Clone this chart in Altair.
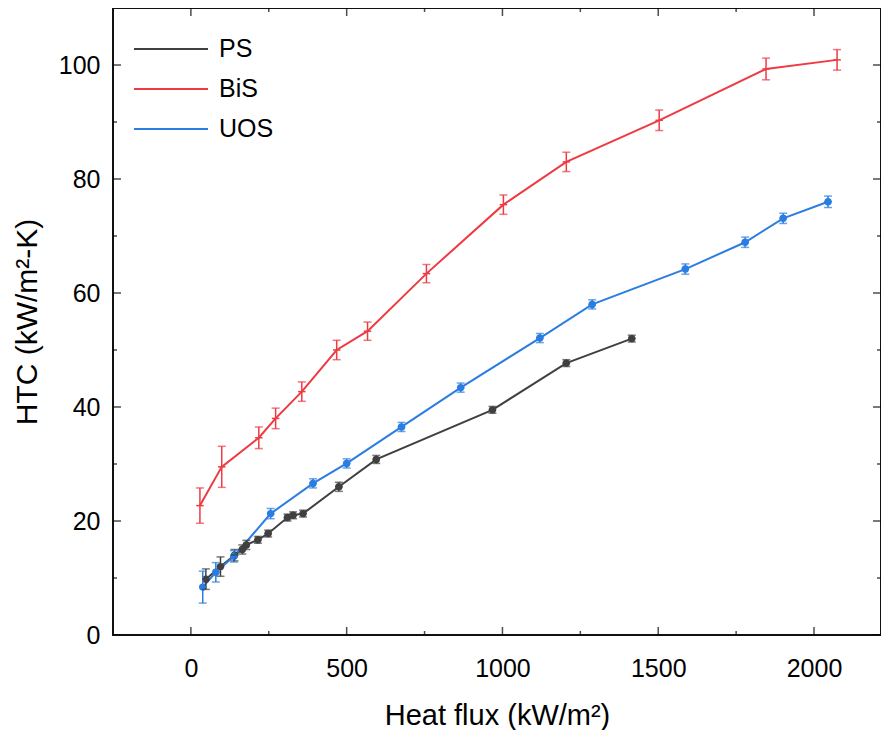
import altair as alt
import pandas as pd

SERIES = ["PS", "BiS", "UOS"]
COLORS = ["#404040", "#ee3a42", "#2b7de1"]

PS_X = [48, 95, 140, 165, 178, 215, 248, 310, 328, 360, 475, 595, 968, 1205, 1415]
PS_Y = [9.8, 12.0, 14.0, 15.0, 15.8, 16.7, 17.8, 20.6, 21.0, 21.3, 26.0, 30.8, 39.5, 47.7, 52.0]
PS_ERR = [1.8, 1.7, 1.0, 0.8, 0.8, 0.6, 0.6, 0.6, 0.6, 0.6, 0.8, 0.7, 0.6, 0.6, 0.6]

BIS_X = [29, 99, 218, 272, 356, 468, 567, 756, 1003, 1205, 1503, 1846, 2074]
BIS_Y = [22.7, 29.5, 34.6, 38.0, 42.7, 50.0, 53.3, 63.4, 75.5, 83.0, 90.3, 99.3, 100.9]
BIS_ERR = [3.1, 3.6, 1.9, 1.8, 1.7, 1.7, 1.6, 1.6, 1.7, 1.7, 1.8, 1.9, 1.8]

UOS_X = [38, 80, 138, 256, 392, 500, 676, 866, 1120, 1288, 1587, 1779, 1901, 2045]
UOS_Y = [8.4, 11.0, 13.8, 21.3, 26.6, 30.1, 36.5, 43.4, 52.1, 58.0, 64.2, 68.9, 73.1, 76.0]
UOS_ERR = [2.8, 1.7, 1.0, 0.9, 0.8, 0.8, 0.8, 0.8, 0.8, 0.8, 0.9, 0.9, 0.9, 1.0]

X_ERR = [12]

X_DOMAIN = [-250, 2215]
Y_DOMAIN = [0, 110]
X_MAJOR = [0, 500, 1000, 1500, 2000]
X_MINOR = [250, 750, 1250, 1750]
Y_MAJOR = [0, 20, 40, 60, 80, 100]
Y_MINOR = [10, 30, 50, 70, 90]

rows = []
for name, xs, ys, es in [("PS", PS_X, PS_Y, PS_ERR), ("BiS", BIS_X, BIS_Y, BIS_ERR),
                         ("UOS", UOS_X, UOS_Y, UOS_ERR)]:
    for x, y, e in zip(xs, ys, es):
        rows.append(dict(series=name, x=x, y=y, ylo=y - e, yhi=y + e,
                         xlo=x - X_ERR[0], xhi=x + X_ERR[0]))
df = pd.DataFrame(rows)

FONT = "Liberation Sans"
xscale = alt.Scale(domain=X_DOMAIN, nice=False, zero=False)
yscale = alt.Scale(domain=Y_DOMAIN, nice=False, zero=False)
cscale = alt.Scale(domain=SERIES, range=COLORS)

x_axis = alt.Axis(orient="bottom", values=X_MAJOR, format="d", ticks=False,
                  labelFontSize=25, labelPadding=21, titleFontSize=29,
                  titleFontWeight="normal", titlePadding=20, grid=False, domain=False)
y_axis = alt.Axis(orient="left", values=Y_MAJOR, format="d", ticks=False,
                  labelFontSize=25, labelPadding=13, titleFontSize=30,
                  titleFontWeight="normal", titlePadding=16, grid=False, domain=False)

base = alt.Chart(df)
nocolor = alt.Color("series:N", scale=cscale, legend=None)

lines = base.mark_line(strokeWidth=2).encode(
    x=alt.X("x:Q", scale=xscale, axis=x_axis, title="Heat flux (kW/m²)"),
    y=alt.Y("y:Q", scale=yscale, axis=y_axis, title="HTC (kW/m²-K)"),
    color=alt.Color("series:N", scale=cscale, sort=SERIES,
                    legend=alt.Legend(title=None, orient="none", legendX=20, legendY=26,
                                      symbolType="stroke", symbolSize=5476,
                                      symbolStrokeWidth=2, labelFontSize=25,
                                      labelFont=FONT, clipHeight=30, rowPadding=10,
                                      labelOffset=10, padding=0)),
    detail="series:N",
)

points = base.transform_filter("datum.series !== 'BiS'").mark_circle(size=55, opacity=1).encode(
    x=alt.X("x:Q", scale=xscale, axis=None),
    y=alt.Y("y:Q", scale=yscale, axis=None),
    color=nocolor,
)

yerr = base.mark_rule(strokeWidth=1.5).encode(
    x=alt.X("x:Q", scale=xscale, axis=None),
    y=alt.Y("ylo:Q", scale=yscale, axis=None),
    y2="yhi:Q",
    color=nocolor,
)
ycap_lo = base.mark_tick(orient="horizontal", size=8, thickness=1.5).encode(
    x=alt.X("x:Q", scale=xscale, axis=None),
    y=alt.Y("ylo:Q", scale=yscale, axis=None),
    color=nocolor,
)
ycap_hi = base.mark_tick(orient="horizontal", size=8, thickness=1.5).encode(
    x=alt.X("x:Q", scale=xscale, axis=None),
    y=alt.Y("yhi:Q", scale=yscale, axis=None),
    color=nocolor,
)
xerr = base.mark_rule(strokeWidth=1.5).encode(
    x=alt.X("xlo:Q", scale=xscale, axis=None),
    x2="xhi:Q",
    y=alt.Y("y:Q", scale=yscale, axis=None),
    color=nocolor,
)


def x_ticks(values, edge, length):
    return alt.Chart(pd.DataFrame({"v": values})).mark_tick(
        orient="vertical", size=2 * length, thickness=1.5, color="black", clip=True
    ).encode(
        x=alt.X("v:Q", scale=xscale, axis=None),
        y=alt.YDatum(edge, type="quantitative", scale=yscale, axis=None),
    )


def y_ticks(values, edge, length):
    return alt.Chart(pd.DataFrame({"v": values})).mark_tick(
        orient="horizontal", size=2 * length, thickness=1.5, color="black", clip=True
    ).encode(
        y=alt.Y("v:Q", scale=yscale, axis=None),
        x=alt.XDatum(edge, type="quantitative", scale=xscale, axis=None),
    )


tick_layers = []
for edge in Y_DOMAIN:
    tick_layers += [x_ticks(X_MAJOR, edge, 8), x_ticks(X_MINOR, edge, 4)]
for edge in X_DOMAIN:
    tick_layers += [y_ticks(Y_MAJOR, edge, 8), y_ticks(Y_MINOR, edge, 4)]

chart = alt.layer(lines, points, yerr, ycap_lo, ycap_hi, xerr, *tick_layers).resolve_axis(
    x="independent", y="independent"
).properties(
    width=768, height=627,
    padding={"left": 4, "top": 0, "right": 0, "bottom": 0},
    background="white",
).configure_view(
    stroke="#111111", strokeWidth=2
).configure_axis(
    labelFont=FONT, titleFont=FONT, labelColor="black", titleColor="black",
    titleFontWeight="normal"
)

chart.save("out.html", embed_options={"renderer": "svg", "actions": False})
